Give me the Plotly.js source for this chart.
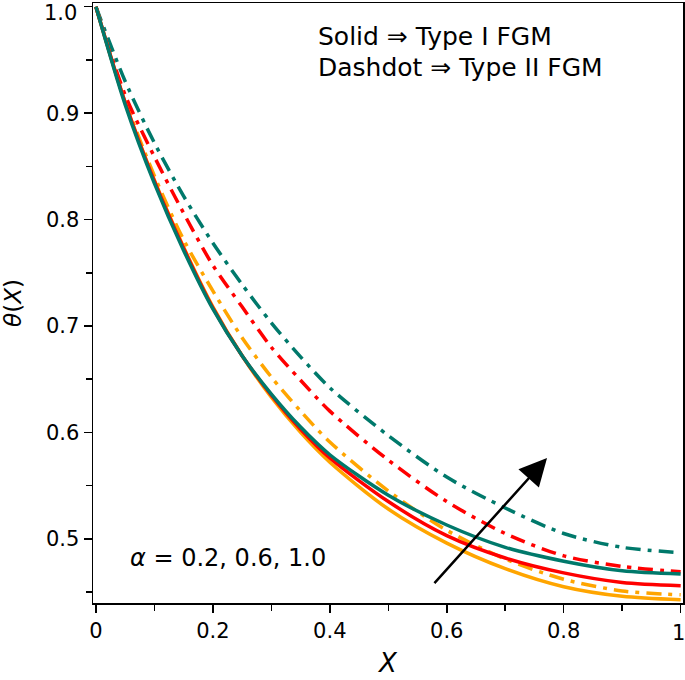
<!DOCTYPE html>
<html>
<head>
<meta charset="utf-8">
<script src="https://cdn.plot.ly/plotly-3.0.1.min.js"></script>
<style>html,body{margin:0;padding:0;background:#fff;}</style>
</head>
<body>
<div id="chart" style="width:685px;height:680px;"></div>
<script>
const X = [0, 0.05, 0.1, 0.15, 0.2, 0.25, 0.3, 0.35, 0.4, 0.5, 0.6, 0.7, 0.8, 0.9, 1.0];
// Type I FGM (solid)
const solid_a02 = [1, 0.910, 0.837, 0.774, 0.718, 0.672, 0.633, 0.600, 0.572, 0.528, 0.496, 0.472, 0.455, 0.446, 0.4427];
const solid_a06 = [1, 0.910, 0.836, 0.773, 0.717, 0.672, 0.635, 0.603, 0.576, 0.535, 0.503, 0.482, 0.468, 0.459, 0.456];
const solid_a10 = [1, 0.908, 0.834, 0.771, 0.716, 0.672, 0.636, 0.605, 0.579, 0.541, 0.513, 0.492, 0.479, 0.470, 0.467];
// Type II FGM (dashdot)
const dd_a02 = [1, 0.912, 0.841, 0.781, 0.733, 0.689, 0.652, 0.620, 0.591, 0.545, 0.508, 0.481, 0.462, 0.451, 0.4474];
const dd_a06 = [1, 0.917, 0.859, 0.806, 0.757, 0.718, 0.680, 0.649, 0.620, 0.574, 0.535, 0.505, 0.484, 0.474, 0.469];
const dd_a10 = [1, 0.930, 0.872, 0.822, 0.778, 0.739, 0.703, 0.671, 0.642, 0.597, 0.558, 0.529, 0.505, 0.492, 0.487];

const xTicks = [0, 0.2, 0.4, 0.6, 0.8, 1];
const xTickText = ['0', '0.2', '0.4', '0.6', '0.8', ''];
const yTicks = [0.5, 0.6, 0.7, 0.8, 0.9, 1.0];
const yTickText = ['0.5', '0.6', '0.7', '0.8', '0.9', ''];
// edge tick labels, nudged inward to stay inside the page
const xEdgeLabel = '1';
const yEdgeLabel = '1.0';

const TEAL = '#00796b', RED = '#ff0000', ORANGE = '#ffa500';
const DASHDOT = '15px,7px,4px,7px';
const LW = 3.5;

function tr(y, color, dash) {
  return {x: X, y: y, type: 'scatter', mode: 'lines',
    line: {color: color, width: LW, dash: dash, shape: 'spline', smoothing: 0.8},
    showlegend: false, hoverinfo: 'skip'};
}
const data = [
  tr(dd_a02, ORANGE, DASHDOT),
  tr(dd_a06, RED, DASHDOT),
  tr(dd_a10, TEAL, DASHDOT),
  tr(solid_a02, ORANGE, 'solid'),
  tr(solid_a06, RED, 'solid'),
  tr(solid_a10, TEAL, 'solid')
];

const FONT = 'DejaVu Sans, Liberation Sans, Arial, sans-serif';
const layout = {
  width: 685, height: 680,
  margin: {l: 93, r: 2, t: 3, b: 77},
  paper_bgcolor: '#fff', plot_bgcolor: '#fff',
  font: {family: FONT, size: 21, color: '#000'},
  xaxis: {
    range: [-0.005, 1.004], tickvals: xTicks, ticktext: xTickText,
    ticks: 'outside', ticklen: 8, tickwidth: 1.5, tickcolor: '#000',
    showline: true, linecolor: '#000', linewidth: 1.5, mirror: true,
    showgrid: false, zeroline: false,
    minor: {tickvals: [0.1, 0.3, 0.5, 0.7, 0.9], ticks: 'outside', ticklen: 6, tickwidth: 1.5, tickcolor: '#000', showgrid: false},
    tickfont: {family: FONT, size: 21},
    title: {text: '<i>X</i>', font: {family: FONT, size: 26}, standoff: 12}
  },
  yaxis: {
    range: [0.4397, 1.0035], tickvals: yTicks, ticktext: yTickText,
    ticks: 'outside', ticklen: 8, tickwidth: 1.5, tickcolor: '#000',
    showline: true, linecolor: '#000', linewidth: 1.5, mirror: true,
    showgrid: false, zeroline: false,
    minor: {tickvals: [0.45, 0.55, 0.65, 0.75, 0.85, 0.95], ticks: 'outside', ticklen: 6, tickwidth: 1.5, tickcolor: '#000', showgrid: false},
    tickfont: {family: FONT, size: 21},
    title: {text: '<i>θ</i>(<i>X</i>)', font: {family: FONT, size: 23}, standoff: 18}
  },
  annotations: [
    {xref: 'paper', yref: 'paper', x: 0.378, y: 0.945, xanchor: 'left', yanchor: 'middle',
     text: 'Solid ⇒ Type I FGM', showarrow: false, font: {family: FONT, size: 25}},
    {xref: 'paper', yref: 'paper', x: 0.378, y: 0.892, xanchor: 'left', yanchor: 'middle',
     text: 'Dashdot ⇒ Type II FGM', showarrow: false, font: {family: FONT, size: 25}},
    {xref: 'paper', yref: 'paper', x: 0.059, y: 0.075, xanchor: 'left', yanchor: 'middle',
     text: '<i>α</i> = 0.2, 0.6, 1.0', showarrow: false, font: {family: FONT, size: 24}},
    {xref: 'x', yref: 'paper', x: xTicks[xTicks.length - 1], y: -0.05, xanchor: 'right', yanchor: 'middle',
     xshift: 5, text: xEdgeLabel, showarrow: false, borderpad: 0, font: {family: FONT, size: 21}},
    {xref: 'paper', yref: 'y', x: -0.025, y: yTicks[yTicks.length - 1], xanchor: 'right', yanchor: 'top',
     yshift: 7, text: yEdgeLabel, showarrow: false, borderpad: 0, font: {family: FONT, size: 21}},
    {xref: 'x', yref: 'y', x: 0.7715, y: 0.576, axref: 'x', ayref: 'y', ax: 0.5766, ay: 0.457,
     text: '', showarrow: true, arrowhead: 2, arrowsize: 2.2, arrowwidth: 2.5, arrowcolor: '#000'}
  ]
};
Plotly.newPlot('chart', data, layout, {displayModeBar: false, staticPlot: true});
</script>
</body>
</html>
